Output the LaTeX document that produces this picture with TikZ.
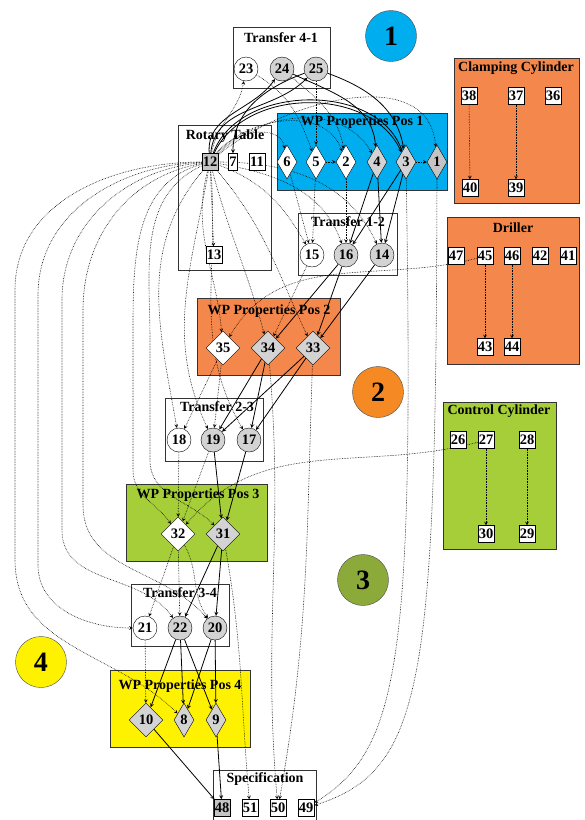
\documentclass[tikz,border=0pt]{standalone}
\usepackage{fontspec}
\setmainfont{Liberation Serif}
\usetikzlibrary{shapes.geometric}
\definecolor{posblue}{HTML}{00AEEF}
\definecolor{posorange}{HTML}{F4874B}
\definecolor{bigorange}{HTML}{F58A24}
\definecolor{posgreen}{HTML}{A6CE39}
\definecolor{biggreen}{HTML}{8BAA3A}
\definecolor{posyellow}{HTML}{FFF200}
\definecolor{lgray}{HTML}{D3D3D3}
\definecolor{mgray}{HTML}{C4C4C4}
\pgfdeclarelayer{boxes}
\pgfdeclarelayer{edges}
\pgfsetlayers{boxes,edges,main}
\begin{document}
\begin{tikzpicture}[x=1pt,y=-1pt,>=stealth,
	st/.style={circle,draw,fill=white,minimum size=24pt,inner sep=0pt,font=\fontsize{14.5}{15}\selectfont\bfseries},
	stg/.style={st,fill=lgray},
	cnd/.style={diamond,draw,fill=white,minimum width=20pt,minimum height=34pt,inner sep=0pt,font=\fontsize{14.5}{15}\selectfont\bfseries},
	cndw/.style={cnd,minimum width=34pt},
	sig/.style={rectangle,draw,fill=white,minimum height=17pt,inner xsep=1pt,inner ysep=0pt,font=\fontsize{14.5}{15}\selectfont\bfseries},
	grp/.style={draw=black!80,line width=0.7pt},
	ttl/.style={font=\fontsize{14}{15}\selectfont\bfseries},
	big/.style={circle,draw=black!70,minimum size=51pt,inner sep=0pt,font=\fontsize{28}{28}\selectfont\bfseries},
	dep/.style={->,densely dotted,line width=0.6pt},
	ctl/.style={->,line width=0.8pt}]
	\useasboundingbox (0,0) rectangle (585,820);
	% groups
	\begin{pgfonlayer}{boxes}
	\draw[grp,fill=white] (233,27) rectangle (330,88);
	\draw[grp,fill=white] (178,125) rectangle (271,270);
	\draw[grp,fill=posblue] (277,113) rectangle (447,190);
	\draw[grp,fill=white] (298,213) rectangle (397,275);
	\draw[grp,fill=posorange] (197,298) rectangle (340,375);
	\draw[grp,fill=white] (165,398) rectangle (263,461);
	\draw[grp,fill=posgreen] (126,484) rectangle (267,561);
	\draw[grp,fill=white] (131,584) rectangle (229,646);
	\draw[grp,fill=posyellow] (110,670) rectangle (250,747);
	\draw[grp,fill=white] (213,770) rectangle (316,824);
	\draw[grp,fill=posorange] (454,58) rectangle (579,203);
	\draw[grp,fill=posorange] (447,217) rectangle (579,364);
	\draw[grp,fill=posgreen] (443,402) rectangle (556,549);
	\end{pgfonlayer}
	\node[ttl] (tt41) at (281,38) {Transfer 4-1};
	\node[ttl] (trt) at (225,136) {Rotary Table};
	\node[ttl] (tp1) at (362,122) {WP Properties Pos 1};
	\node[ttl] (tt12) at (348,222) {Transfer 1-2};
	\node[ttl] (tp2) at (269,311) {WP Properties Pos 2};
	\node[ttl] (tt23) at (217,407) {Transfer 2-3};
	\node[ttl] (tp3) at (198,495) {WP Properties Pos 3};
	\node[ttl] (tt34) at (180,593) {Transfer 3-4};
	\node[ttl] (tp4) at (180,686) {WP Properties Pos 4};
	\node[ttl] (tsp) at (265,779) {Specification};
	\node[ttl] (tcc) at (516,68) {Clamping Cylinder};
	\node[ttl] (tdr) at (513,228) {Driller};
	\node[ttl] (tcy) at (499,411) {Control Cylinder};
	% stations
	\node[big,fill=posblue] (s1) at (391,36) {1};
	\node[big,fill=bigorange] (s2) at (378,392) {2};
	\node[big,fill=biggreen] (s3) at (363,580) {3};
	\node[big,fill=posyellow] (s4) at (41,662) {4};
	% transfer 4-1 and rotary table
	\node[st] (n23) at (246,69) {23};
	\node[stg] (n24) at (282,69) {24};
	\node[stg] (n25) at (316,69) {25};
	\node[sig,fill=mgray] (n12) at (210,162) {12};
	\node[sig] (n7) at (233,162) {7};
	\node[sig] (n11) at (257,162) {11};
	\node[sig] (n13) at (214,255) {13};
	% pos 1
	\node[cnd] (n6) at (287,162) {6};
	\node[cnd] (n5) at (316,162) {5};
	\node[cnd] (n2) at (346,162) {2};
	\node[cnd,fill=lgray] (n4) at (377,162) {4};
	\node[cnd,fill=lgray] (n3) at (406,162) {3};
	\node[cnd,fill=mgray] (n1) at (437,162) {1};
	% transfer 1-2
	\node[st] (n15) at (312,255) {15};
	\node[stg] (n16) at (346,255) {16};
	\node[stg] (n14) at (382,255) {14};
	% pos 2
	\node[cndw] (n35) at (223,348) {35};
	\node[cndw,fill=lgray] (n34) at (268,348) {34};
	\node[cndw,fill=lgray] (n33) at (313,348) {33};
	% transfer 2-3
	\node[st] (n18) at (179,440) {18};
	\node[stg] (n19) at (213,440) {19};
	\node[stg] (n17) at (249,440) {17};
	% pos 3
	\node[cndw] (n32) at (178,534) {32};
	\node[cndw,fill=lgray] (n31) at (223,534) {31};
	% transfer 3-4
	\node[st] (n21) at (145,628) {21};
	\node[stg] (n22) at (180,628) {22};
	\node[stg] (n20) at (215,628) {20};
	% pos 4
	\node[cndw,fill=lgray] (n10) at (146,720) {10};
	\node[cnd,fill=lgray] (n8) at (184,720) {8};
	\node[cnd,fill=lgray] (n9) at (216,720) {9};
	% specification
	\node[sig,fill=mgray] (n48) at (222,808) {48};
	\node[sig] (n51) at (250,808) {51};
	\node[sig] (n50) at (278,808) {50};
	\node[sig] (n49) at (306,808) {49};
	% clamping cylinder, driller, control cylinder
	\node[sig] (n38) at (469,96) {38};
	\node[sig] (n37) at (516,96) {37};
	\node[sig] (n36) at (553,96) {36};
	\node[sig] (n40) at (470,188) {40};
	\node[sig] (n39) at (516,188) {39};
	\node[sig] (n47) at (456,256) {47};
	\node[sig] (n45) at (485,256) {45};
	\node[sig] (n46) at (512,256) {46};
	\node[sig] (n42) at (540,256) {42};
	\node[sig] (n41) at (568,256) {41};
	\node[sig] (n43) at (485,347) {43};
	\node[sig] (n44) at (512,347) {44};
	\node[sig] (n26) at (458,440) {26};
	\node[sig] (n27) at (486,440) {27};
	\node[sig] (n28) at (527,440) {28};
	\node[sig] (n30) at (486,534) {30};
	\node[sig] (n29) at (527,534) {29};
	\begin{pgfonlayer}{edges}
	% control flow
	\draw[ctl] (n12) to[out=95,in=-125] (n24);
	\draw[ctl] (n12) to[out=85,in=-135] (n25);
	\draw[ctl] (n25) to[out=-160,in=90] (n7);
	\draw[ctl] (n12) to[out=70,in=110] (n3);
	\draw[ctl] (n12) to[out=65,in=115] (n3);
	\draw[ctl] (n25) to[out=-20,in=100] (n3);
	\draw[ctl] (n24) to[out=-25,in=95] (n4);
	\draw[ctl] (n4) -- (n16);
	\draw[ctl] (n4) -- (n14);
	\draw[ctl] (n3) -- (n16);
	\draw[ctl] (n3) -- (n14);
	\draw[ctl] (n16) -- (n34);
	\draw[ctl] (n16) -- (n33);
	\draw[ctl] (n14) -- (n33);
	\draw[ctl] (n34) -- (n19);
	\draw[ctl] (n34) -- (n17);
	\draw[ctl] (n33) -- (n19);
	\draw[ctl] (n33) -- (n17);
	\draw[ctl] (n19) -- (n31);
	\draw[ctl] (n17) -- (n31);
	\draw[ctl] (n31) -- (n22);
	\draw[ctl] (n31) -- (n20);
	\draw[ctl] (n22) -- (n10);
	\draw[ctl] (n22) -- (n8);
	\draw[ctl] (n22) -- (n9);
	\draw[ctl] (n20) -- (n8);
	\draw[ctl] (n20) -- (n9);
	\draw[ctl] (n10) -- (n48);
	\draw[ctl] (n9) -- (n48);
	% dependencies, top
	\draw[dep] (n12) to[out=80,in=-100] (n23);
	\draw[dep] (n23) to[out=-30,in=110] (n5);
	\draw[dep] (n25) -- (n5);
	\draw[dep] (n24) to[out=-40,in=100] (n2);
	\draw[dep] (n12) to[out=55,in=100] (n6);
	\draw[dep] (n12) to[out=50,in=110] (n2);
	\draw[dep] (n12) to[out=45,in=120] (n4);
	\draw[dep] (n12) to[out=40,in=95] (n1);
	\draw[dep] (n5) -- (n2);
	\draw[dep] (n3) -- (n1);
	\draw[dep] (n6) -- (n15);
	\draw[dep] (n5) -- (n15);
	\draw[dep] (n2) -- (n16);
	\draw[dep] (n12) -- (n13);
	\draw[dep] (n12) to[out=-20,in=120] (n15);
	\draw[dep] (n12) to[out=-10,in=110] (n16);
	\draw[dep] (n12) to[out=0,in=115] (n14);
	% dependencies, down the line
	\draw[dep] (n12) to[out=-105,in=95] (n35);
	\draw[dep] (n12) to[out=-75,in=105] (n34);
	\draw[dep] (n12) to[out=-50,in=115] (n33);
	\draw[dep] (n12) to[out=-130,in=100] (n18);
	\draw[dep] (n12) to[out=-100,in=115] (n19);
	\draw[dep] (n12) to[out=-85,in=120] (n17);
	\draw[dep] (n12) to[out=195,in=90] (133,330) -- (133,470) to[out=-90,in=125] (n32);
	\draw[dep] (n12) to[out=205,in=90] (150,340) -- (150,460) to[out=-90,in=135] (n31);
	\draw[dep] (n12) to[out=180,in=90] (15,290) -- (15,560) to[out=-90,in=135] (n8);
	\draw[dep] (n12) to[out=182,in=90] (38,295) -- (38,565) to[out=-90,in=180] (n21);
	\draw[dep] (n12) to[out=185,in=90] (62,300) -- (62,530) to[out=-90,in=125] (n22);
	\draw[dep] (n12) to[out=190,in=90] (83,310) -- (83,505) to[out=-90,in=130] (n20);
	\draw[dep] (n15) -- (n34);
	\draw[dep] (n45) to[out=-165,in=60] (n35);
	\draw[dep] (n35) -- (n18);
	\draw[dep] (n35) -- (n19);
	\draw[dep] (n18) -- (n32);
	\draw[dep] (n19) -- (n32);
	\draw[dep] (n27) to[out=-165,in=50] (n32);
	\draw[dep] (n32) -- (n21);
	\draw[dep] (n32) -- (n22);
	\draw[dep] (n32) to[out=-60,in=125] (n20);
	\draw[dep] (n21) -- (n10);
	\draw[dep] (n31) to[out=-80,in=95] (n51);
	\draw[dep] (n34) to[out=-85,in=95] (n50);
	\draw[dep] (n33) to[out=-92,in=80] (n50);
	\draw[dep] (n3) .. controls (414,660) and (400,750) .. (n49);
	\draw[dep] (n1) .. controls (436,680) and (425,770) .. (n49);
	\draw[dep] (n38) -- (n40);
	\draw[dep] (n37) -- (n39);
	\draw[dep] (n45) -- (n43);
	\draw[dep] (n46) -- (n44);
	\draw[dep] (n27) -- (n30);
	\draw[dep] (n28) -- (n29);
	\end{pgfonlayer}
\end{tikzpicture}
\end{document}
